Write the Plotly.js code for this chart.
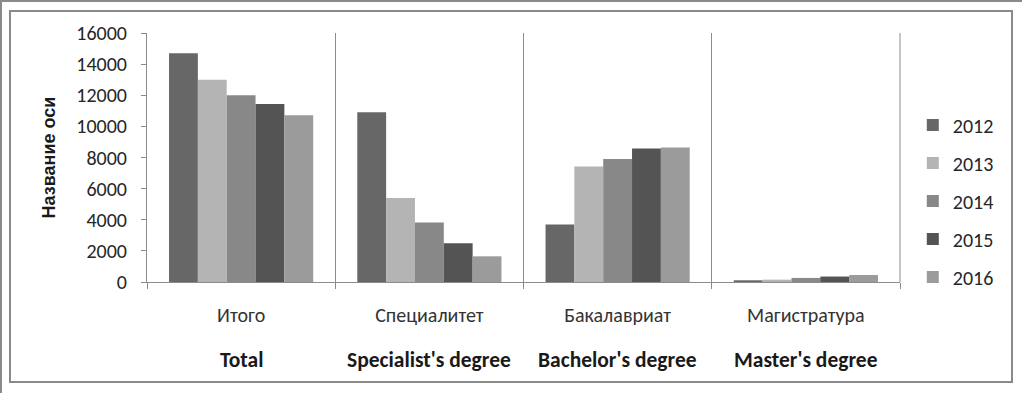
<!DOCTYPE html>
<html>
<head>
<meta charset="utf-8">
<script src="https://cdn.plot.ly/plotly-3.0.1.min.js"></script>
<style>
  html, body { margin: 0; padding: 0; background: #fff; }
  #wrap { position: relative; width: 1022px; height: 393px; overflow: hidden; }
  #outer { position: absolute; left: 0; top: 0; width: 1022px; height: 393px; border-left: 2px solid #8a8a8a; border-top: 2px solid #8a8a8a; box-sizing: border-box; pointer-events: none; }
  #inner { position: absolute; left: 9px; top: 10px; width: 1004px; height: 373px; border: 2px solid #8a8a8a; box-sizing: border-box; pointer-events: none; }
  #chart { position: absolute; left: 0; top: 0; width: 1022px; height: 393px; }
</style>
</head>
<body>
<div id="wrap">
  <div id="chart"></div>
  <div id="outer"></div>
  <div id="inner"></div>
</div>
<script>
const categoriesRu = ["Итого", "Специалитет", "Бакалавриат", "Магистратура"];
const categoriesEn = ["Total", "Specialist's degree", "Bachelor's degree", "Master's degree"];
const years = ["2012", "2013", "2014", "2015", "2016"];
const values2012 = [14700, 10900, 3700, 110];
const values2013 = [13000, 5400, 7420, 150];
const values2014 = [12000, 3830, 7900, 260];
const values2015 = [11430, 2490, 8580, 350];
const values2016 = [10720, 1650, 8640, 450];
const yTicks = [0, 2000, 4000, 6000, 8000, 10000, 12000, 14000, 16000];
const axisTitle = "Название оси";

const seriesValues = [values2012, values2013, values2014, values2015, values2016];
const colors = ["#676767", "#b4b4b4", "#888888", "#545454", "#9b9b9b"];

const mainFont = "Carlito, Lato, Roboto, sans-serif";

const traces = years.map((yr, i) => ({
  type: "bar",
  name: yr,
  x: categoriesRu,
  y: seriesValues[i],
  marker: { color: colors[i], line: { width: 0 } },
  legendgroup: yr,
  hoverinfo: "x+y+name"
}));

const annotations = categoriesEn.map((t, i) => ({
  x: categoriesRu[i],
  xref: "x",
  y: -0.313,
  yref: "paper",
  yanchor: "middle",
  xanchor: "center",
  text: "<b>" + t + "</b>",
  showarrow: false,
  font: { family: mainFont, size: 21.5, color: "#1a1a1a" }
}));

const layout = {
  width: 1022,
  height: 393,
  margin: { l: 147, r: 122, t: 33, b: 111 },
  paper_bgcolor: "rgba(0,0,0,0)",
  plot_bgcolor: "rgba(0,0,0,0)",
  barmode: "group",
  bargap: 0.234,
  bargroupgap: 0,
  showlegend: true,
  legend: {
    x: 1.017, xanchor: "left",
    y: 0.325, yanchor: "middle",
    traceorder: "grouped",
    tracegroupgap: 9,
    font: { family: mainFont, size: 20, color: "#262626" },
    bgcolor: "rgba(0,0,0,0)"
  },
  xaxis: {
    type: "category",
    tickson: "boundaries",
    ticks: "outside",
    ticklen: 6,
    tickcolor: "#888888",
    showgrid: true,
    gridcolor: "#8c8c8c",
    gridwidth: 1,
    showline: true,
    linecolor: "#8c8c8c",
    linewidth: 1,
    tickfont: { family: mainFont, size: 20, color: "#333333" },
    ticklabelstandoff: 15,
    fixedrange: true
  },
  yaxis: {
    range: [0, 16000],
    tickvals: yTicks,
    ticktext: yTicks.map(String),
    ticks: "outside",
    ticklen: 5,
    tickcolor: "#888888",
    showgrid: false,
    zeroline: false,
    showline: true,
    linecolor: "#8c8c8c",
    linewidth: 1,
    tickfont: { family: mainFont, size: 20, color: "#262626" },
    ticklabelstandoff: 10,
    title: { text: "<b>" + axisTitle + "</b>", font: { family: "'Liberation Sans', Arial, sans-serif", size: 18, color: "#1a1a1a" }, standoff: 16 },
    fixedrange: true
  },
  shapes: [
    { type: "line", xref: "paper", yref: "paper", x0: 1, x1: 1, y0: 0, y1: 1, line: { color: "#8c8c8c", width: 1 } }
  ],
  annotations: annotations
};

Plotly.newPlot("chart", traces, layout, { displayModeBar: false, staticPlot: true });
</script>
</body>
</html>
